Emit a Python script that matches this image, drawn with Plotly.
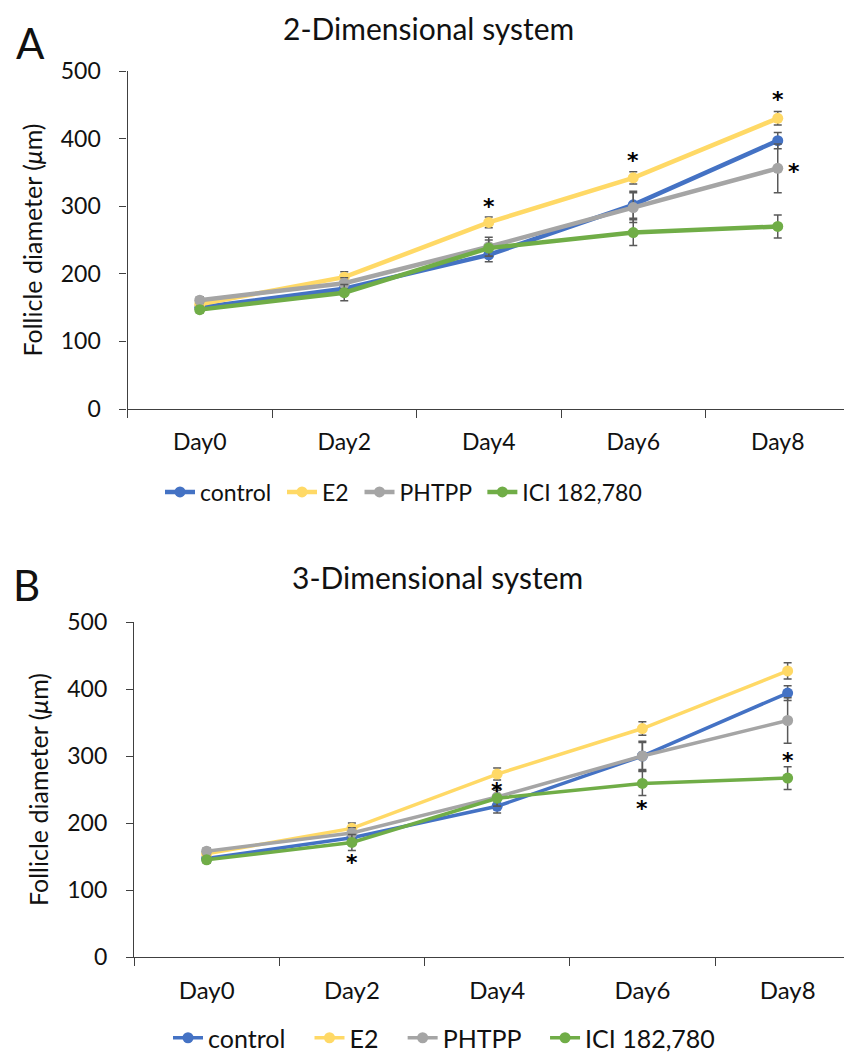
import plotly.graph_objects as go

days = ["Day0", "Day2", "Day4", "Day6", "Day8"]
series_names_a = ["control", "E2", "PHTPP", "ICI 182,780"]
series_names_b = ["control", "E2", "PHTPP", "ICI 182,780"]
colors = ["#4472C4", "#FFD966", "#A5A5A5", "#70AD47"]

# Panel A (2-Dimensional system)
a_control = [150, 178, 228, 302, 397]
a_e2 = [155, 195, 276, 342, 430]
a_phtpp = [161, 186, 240, 298, 356]
a_ici = [147, 172, 238, 261, 270]
a_control_err = [5, 8, 10, 20, 12]
a_e2_err = [5, 8, 8, 9, 10]
a_phtpp_err = [5, 8, 14, 22, 36]
a_ici_err = [5, 12, 12, 19, 17]

# Panel B (3-Dimensional system)
b_control = [147, 178, 225, 300, 394]
b_e2 = [154, 192, 273, 341, 427]
b_phtpp = [158, 185, 239, 300, 353]
b_ici = [145, 171, 237, 259, 267]
b_control_err = [5, 8, 10, 20, 11]
b_e2_err = [5, 8, 9, 10, 12]
b_phtpp_err = [5, 8, 14, 22, 34]
b_ici_err = [5, 12, 12, 18, 17]

# Significance asterisks
a_star_day = ["Day4", "Day6", "Day8", "Day8"]
a_star_y = [303, 371, 461, 354]
a_star_dx = [0, 0, 0, 16]
b_star_day = ["Day2", "Day4", "Day6", "Day8"]
b_star_y = [147, 255, 228, 300]

FONT = "Lato"
AXIS_COLOR = "#404040"
ERR_COLOR = "#595959"

W = 852.0
H = 1054.0
OFF = 8.0  # page body margin


def px(x):
    return (x - OFF) / W


def py(y):
    return (H - (y - OFF)) / H


NB = "\u00a0"

fig = go.Figure()

a_vals = [a_control, a_e2, a_phtpp, a_ici]
a_errs = [a_control_err, a_e2_err, a_phtpp_err, a_ici_err]
b_vals = [b_control, b_e2, b_phtpp, b_ici]
b_errs = [b_control_err, b_e2_err, b_phtpp_err, b_ici_err]

for i, (name, col, v, e) in enumerate(zip(series_names_a, colors, a_vals, a_errs)):
    fig.add_trace(go.Scatter(
        x=days, y=v, name=name + (NB if i < 3 else ""), mode="lines+markers",
        line=dict(color=col, width=4.5), marker=dict(color=col, size=11),
        error_y=dict(type="data", array=e, visible=True, color=ERR_COLOR,
                     thickness=1.5, width=4),
        xaxis="x", yaxis="y", legend="legend",
    ))

for i, (name, col, v, e) in enumerate(zip(series_names_b, colors, b_vals, b_errs)):
    fig.add_trace(go.Scatter(
        x=days, y=v, name=name + (NB * 3 if i < 3 else ""), mode="lines+markers",
        line=dict(color=col, width=3.5), marker=dict(color=col, size=11),
        error_y=dict(type="data", array=e, visible=True, color=ERR_COLOR,
                     thickness=1.5, width=4),
        xaxis="x2", yaxis="y2", legend="legend2",
    ))

xaxis_common = dict(
    type="category", categoryorder="array", categoryarray=days,
    showgrid=False, zeroline=False, showline=True, linecolor=AXIS_COLOR,
    linewidth=1.2, ticks="outside", tickson="boundaries", ticklen=8,
    tickcolor=AXIS_COLOR, automargin=False,
    ticklabelstandoff=12,
)
yaxis_common = dict(
    range=[0, 500], dtick=100, showgrid=False, zeroline=False, showline=True,
    linecolor=AXIS_COLOR, linewidth=1.2, ticks="outside", ticklen=7,
    tickcolor=AXIS_COLOR, tickfont=dict(family=FONT, size=23, color="#111"),
    ticklabelstandoff=14, automargin=False,
)

ytitle = "Follicle diameter (<i>μ</i>m)"

b_left = 134.0
b_step = 145.25

fig.update_layout(
    width=852, height=1054,
    margin=dict(l=0, r=0, t=0, b=0, autoexpand=False),
    paper_bgcolor="white", plot_bgcolor="white",
    font=dict(family=FONT, color="#111"),
    xaxis=dict(domain=[px(127.5), px(850)], range=[-0.5, 4.5], anchor="y",
               tickfont=dict(family=FONT, size=23, color="#111"), **xaxis_common),
    yaxis=dict(domain=[py(409), py(71)], anchor="x",
               title=dict(text=ytitle, font=dict(family=FONT, size=25), standoff=11),
               **yaxis_common),
    xaxis2=dict(domain=[px(b_left), 1.0], range=[-0.5, -0.5 + (W + OFF - b_left) / b_step],
                anchor="y2", tickfont=dict(family=FONT, size=24, color="#111"), **xaxis_common),
    yaxis2=dict(domain=[py(957), py(622)], anchor="x2",
                title=dict(text=ytitle, font=dict(family=FONT, size=25), standoff=11),
                **yaxis_common),
    legend=dict(orientation="h", x=px(160), y=py(492), xanchor="left", yanchor="middle",
                font=dict(family=FONT, size=23), bgcolor="rgba(0,0,0,0)", itemwidth=30,
                tracegroupgap=0),
    legend2=dict(orientation="h", x=px(168), y=py(1038), xanchor="left", yanchor="middle",
                 font=dict(family=FONT, size=25), bgcolor="rgba(0,0,0,0)", itemwidth=30,
                 tracegroupgap=0),
    showlegend=True,
)

ann = []
ann.append(dict(text="2-Dimensional system", x=px(428), y=1.0, xref="paper", yref="paper",
                showarrow=False, font=dict(family=FONT, size=30, color="#111"),
                xanchor="center", yanchor="top"))
ann.append(dict(text="3-Dimensional system", x=px(438), y=py(577), xref="paper", yref="paper",
                showarrow=False, font=dict(family=FONT, size=30, color="#111"),
                xanchor="center", yanchor="middle"))
ann.append(dict(text="A", x=px(30), y=py(43), xref="paper", yref="paper",
                showarrow=False, font=dict(family=FONT, size=42, color="#111"),
                xanchor="center", yanchor="middle"))
ann.append(dict(text="B", x=px(26), y=py(585), xref="paper", yref="paper",
                showarrow=False, font=dict(family=FONT, size=42, color="#111"),
                xanchor="center", yanchor="middle"))

for d, yv, dx in zip(a_star_day, a_star_y, a_star_dx):
    ann.append(dict(text="<b>*</b>", x=d, y=yv, xref="x", yref="y", showarrow=False, xshift=dx,
                    yshift=-2, font=dict(family="DejaVu Sans", size=22, color="#000"),
                    xanchor="center", yanchor="middle"))
for d, yv in zip(b_star_day, b_star_y):
    ann.append(dict(text="<b>*</b>", x=d, y=yv, xref="x2", yref="y2", showarrow=False,
                    yshift=-4, font=dict(family="DejaVu Sans", size=22, color="#000"),
                    xanchor="center", yanchor="middle"))

fig.update_layout(annotations=ann)

fig.write_html("out.html")
